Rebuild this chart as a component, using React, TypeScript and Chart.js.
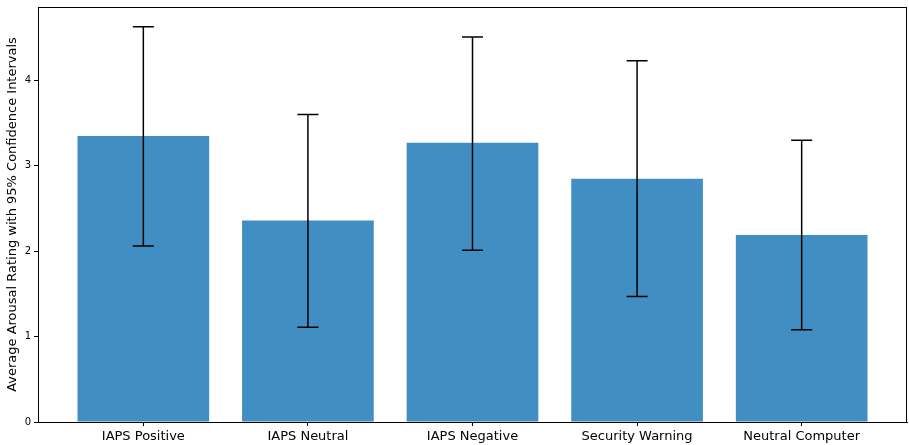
import React, { useEffect, useRef } from "react";
import { Chart, registerables } from "chart.js";

Chart.register(...registerables);

const categories = ["IAPS Positive", "IAPS Neutral", "IAPS Negative", "Security Warning", "Neutral Computer"];
const means = [3.35, 2.36, 3.27, 2.85, 2.19];
const ciLow = [2.06, 1.11, 2.01, 1.47, 1.08];
const ciHigh = [4.63, 3.60, 4.51, 4.23, 3.30];
const yTicks = [0, 1, 2, 3, 4];

const errorBarPlugin = {
  id: "errorBars",
  afterDatasetsDraw(chart: any) {
    const { ctx, scales } = chart;
    const xs = scales.x;
    const ys = scales.y;
    ctx.save();
    ctx.strokeStyle = "#000000";
    ctx.lineWidth = 1.5;
    for (let i = 0; i < means.length; i++) {
      const x = xs.getPixelForValue(i);
      const y1 = ys.getPixelForValue(ciLow[i]);
      const y2 = ys.getPixelForValue(ciHigh[i]);
      ctx.beginPath();
      ctx.moveTo(x, y1);
      ctx.lineTo(x, y2);
      ctx.moveTo(x - 10.5, y1);
      ctx.lineTo(x + 10.5, y1);
      ctx.moveTo(x - 10.5, y2);
      ctx.lineTo(x + 10.5, y2);
      ctx.stroke();
    }
    ctx.restore();
  },
  afterDraw(chart: any) {
    const { ctx, chartArea } = chart;
    ctx.save();
    ctx.strokeStyle = "#000000";
    ctx.lineWidth = 1;
    ctx.strokeRect(
      Math.round(chartArea.left) + 0.5,
      Math.round(chartArea.top) + 0.5,
      Math.round(chartArea.right - chartArea.left) - 1,
      Math.round(chartArea.bottom - chartArea.top)
    );
    ctx.restore();
  },
};

export default function App() {
  const ref = useRef<HTMLCanvasElement | null>(null);
  useEffect(() => {
    if (!ref.current) return;
    const chart = new Chart(ref.current, {
      type: "bar",
      data: {
        datasets: [
          {
            data: means.map((v, i) => ({ x: i, y: v })),
            backgroundColor: "#418ec3",
            borderWidth: 0,
            barPercentage: 0.8,
            categoryPercentage: 1,
          },
        ],
      },
      options: {
        animation: false,
        responsive: false,
        maintainAspectRatio: false,
        layout: { padding: { top: 7, right: 2, left: 0, bottom: 0 } },
        plugins: { legend: { display: false }, tooltip: { enabled: false } },
        scales: {
          x: {
            type: "linear",
            offset: false,
            min: -0.64,
            max: 4.64,
            afterBuildTicks: (s: any) => {
              s.ticks = categories.map((_, i) => ({ value: i }));
            },
            afterFit: (s: any) => {
              s.height = 23;
              s.paddingLeft = 0;
              s.paddingRight = 0;
            },
            ticks: {
              autoSkip: false,
              maxRotation: 0,
              padding: 3,
              color: "#000000",
              font: { family: "DejaVu Sans", size: 13 },
              callback: (v: any) => categories[v as number] ?? "",
            },
            grid: {
              offset: false,
              drawOnChartArea: false,
              drawTicks: true,
              tickLength: 4,
              tickColor: "#000000",
              color: "#000000",
            },
            border: { display: true, color: "#000000" },
          },
          y: {
            min: 0,
            max: 4.86,
            afterBuildTicks: (s: any) => {
              s.ticks = yTicks.map((v) => ({ value: v }));
            },
            afterFit: (s: any) => {
              s.width = 38;
              s.paddingTop = 0;
              s.paddingBottom = 0;
            },
            ticks: {
              padding: 3,
              color: "#000000",
              font: { family: "DejaVu Sans", size: 10 },
            },
            grid: {
              drawOnChartArea: false,
              drawTicks: true,
              tickLength: 4,
              tickColor: "#000000",
              color: "#000000",
            },
            border: { display: true, color: "#000000" },
            title: {
              display: true,
              text: "Average Arousal Rating with 95% Confidence Intervals",
              color: "#000000",
              font: { family: "DejaVu Sans", size: 13 },
              padding: { top: 5, bottom: 0 },
            },
          },
        },
      },
      plugins: [errorBarPlugin],
    } as any);
    return () => chart.destroy();
  }, []);
  return (
    <div style={{ position: "absolute", left: 0, top: 0, width: 909, height: 445, background: "#ffffff" }}>
      <canvas ref={ref} width={909} height={445} style={{ width: 909, height: 445 }} />
    </div>
  );
}
